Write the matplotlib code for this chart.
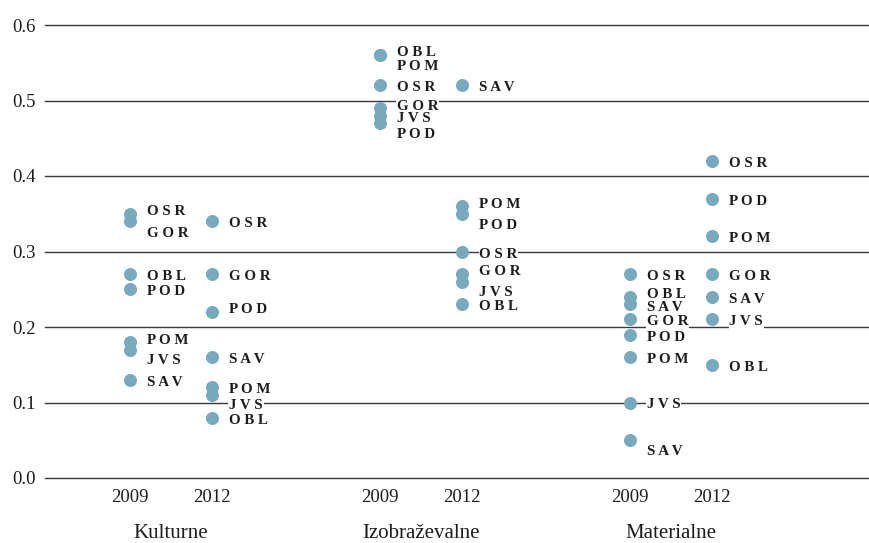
import matplotlib.pyplot as plt
from matplotlib.transforms import offset_copy

plt.rcParams['font.family'] = ['Liberation Serif', 'DejaVu Serif']

# skupine in leta
groups = ['Kulturne', 'Izobraževalne', 'Materialne']
years = ['2009', '2012']

# vrednosti po skupinah in letih
kult_2009_names = ['OSR', 'GOR', 'OBL', 'POD', 'POM', 'JVS', 'SAV']
kult_2009_vals = [0.35, 0.34, 0.27, 0.25, 0.18, 0.17, 0.13]
kult_2012_names = ['OSR', 'GOR', 'POD', 'SAV', 'POM', 'JVS', 'OBL']
kult_2012_vals = [0.34, 0.27, 0.22, 0.16, 0.12, 0.11, 0.08]

izob_2009_names = ['OBL', 'POM', 'OSR', 'GOR', 'JVS', 'POD']
izob_2009_vals = [0.56, 0.56, 0.52, 0.49, 0.48, 0.47]
izob_2012_names = ['SAV', 'POM', 'POD', 'OSR', 'GOR', 'JVS', 'OBL']
izob_2012_vals = [0.52, 0.36, 0.35, 0.30, 0.27, 0.26, 0.23]

mat_2009_names = ['OSR', 'OBL', 'SAV', 'GOR', 'POD', 'POM', 'JVS', 'SAV']
mat_2009_vals = [0.27, 0.24, 0.23, 0.21, 0.19, 0.16, 0.10, 0.05]
mat_2012_names = ['OSR', 'POD', 'POM', 'GOR', 'SAV', 'JVS', 'OBL']
mat_2012_vals = [0.42, 0.37, 0.32, 0.27, 0.24, 0.21, 0.15]

# premik oznak (px, navzgor pozitivno), da se ne prekrivajo
kult_2009_nudge = [5, -10, 0, 0, 4, -8, 0]
kult_2012_nudge = [0, 0, 5, 0, 0, -8, 0]
izob_2009_nudge = [5, -9, 0, 4, 0, -9]
izob_2012_nudge = [0, 4, -9, 0, 5, -8, 0]
mat_2009_nudge = [0, 5, -1, 0, 0, 0, 0, -9]
mat_2012_nudge = [0, 0, 0, 0, 0, 0, 0]

series = [
    [(kult_2009_names, kult_2009_vals, kult_2009_nudge), (kult_2012_names, kult_2012_vals, kult_2012_nudge)],
    [(izob_2009_names, izob_2009_vals, izob_2009_nudge), (izob_2012_names, izob_2012_vals, izob_2012_nudge)],
    [(mat_2009_names, mat_2009_vals, mat_2009_nudge), (mat_2012_names, mat_2012_vals, mat_2012_nudge)],
]

dot_color = '#78a9bd'
text_color = '#1c1c1c'
year_off = [-0.165, 0.165]

fig = plt.figure(figsize=(8.7, 5.43), dpi=100)
ax = fig.add_axes([45 / 870, 65 / 543, 825 / 870, 453 / 543])

for gi, grp in enumerate(series):
    for yi, (names, vals, nudge) in enumerate(grp):
        x = gi + year_off[yi]
        ax.scatter([x] * len(vals), vals, s=88, color=dot_color, zorder=3, linewidths=0)
        for name, v, n in zip(names, vals, nudge):
            tr = offset_copy(ax.transData, fig=fig, x=17, y=n - 2.5, units='dots')
            ax.text(x, v, ' '.join(name), transform=tr, ha='left', va='center',
                    fontsize=10.8, fontweight='bold', color=text_color, zorder=4,
                    bbox=dict(facecolor='white', edgecolor='none', pad=0.5))

ax.set_xlim(-0.504, 2.796)
ax.set_ylim(0, 0.6)
ax.set_yticks([0.0, 0.1, 0.2, 0.3, 0.4, 0.5, 0.6])
ax.set_yticklabels(['0.0', '0.1', '0.2', '0.3', '0.4', '0.5', '0.6'])
ax.grid(axis='y', color='#3a3a3a', linewidth=1.0, zorder=0)
ax.set_axisbelow(True)
for gl in ax.get_ygridlines():
    gl.set_clip_on(False)

xt = [gi + off for gi in range(len(groups)) for off in year_off]
ax.set_xticks(xt)
ax.set_xticklabels(years * len(groups))
ax.tick_params(axis='both', length=0, labelsize=13.5, colors=text_color)
ax.tick_params(axis='y', pad=7)
ax.tick_params(axis='x', pad=8)

for gi, g in enumerate(groups):
    ax.annotate(g, xy=(gi, 0), xycoords=('data', 'axes fraction'),
                xytext=(0, -40), textcoords='offset points',
                ha='center', va='center', fontsize=15, color=text_color)

for s in ax.spines.values():
    s.set_visible(False)

fig.savefig('out.png', dpi=100)
